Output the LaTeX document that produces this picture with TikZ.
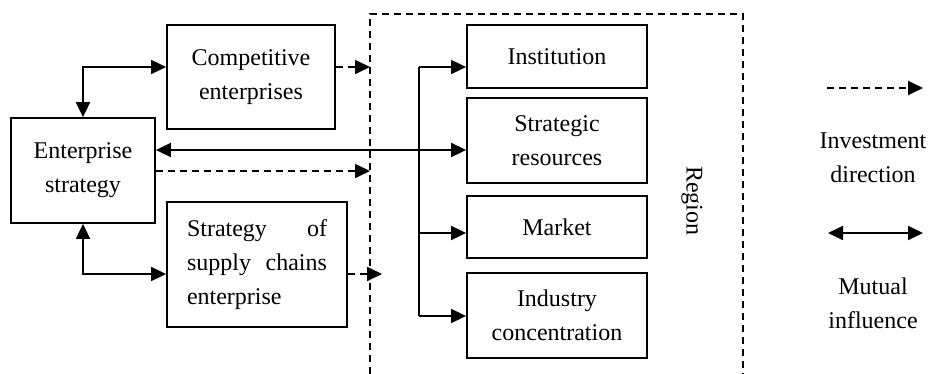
\documentclass[tikz,border=0pt]{standalone}
\usepackage{fontspec}
\setmainfont{Liberation Serif}
\usetikzlibrary{arrows.meta}
\begin{document}
\begin{tikzpicture}[x=0.5pt,y=-0.5pt,
  line width=0.9pt,
  every node/.style={font=\fontsize{12}{17}\selectfont},
  box/.style={draw,line width=0.9pt,align=center,inner sep=2pt},
  arr/.style={-{Triangle[length=7.5pt,width=7pt]}},
  darr/.style={{Triangle[length=7.5pt,width=7pt]}-{Triangle[length=7.5pt,width=7pt]}},
  dsh/.style={dash pattern=on 3.5pt off 2.5pt}]
\useasboundingbox (0,0) rectangle (928,374);

% left-hand boxes
\node[box,minimum width=72pt,minimum height=52.5pt] (es) at (83,170.5) {Enterprise\\strategy};
\node[box,minimum width=84pt,minimum height=52pt] (ce) at (251,77) {Competitive\\enterprises};
\node[box,minimum width=90pt,minimum height=62.5pt,align=left] (sc) at (257,264.5)
  {\parbox{70pt}{Strategy\hfill of\\supply\hfill chains\\enterprise}};

% boxes inside the region
\node[box,minimum width=90pt,minimum height=31.5pt] (in) at (557,56.5) {Institution};
\node[box,minimum width=90pt,minimum height=42.5pt] (sr) at (557,140.5) {Strategic\\resources};
\node[box,minimum width=90pt,minimum height=31pt] (mk) at (557,227) {Market};
\node[box,minimum width=90pt,minimum height=42.5pt] (ic) at (557,315.5) {Industry\\concentration};

% region frame (open at the bottom)
\coordinate (rl) at (370,14);
\coordinate (rr) at (743,14);
\draw[dsh] (370,374) -- (rl) -- (rr) -- (743,374);
\node[rotate=-90] (rg) at (692,201) {Region};

% mutual influence with competitors and supply chain
\draw[darr] (es.north) |- (ce.west |- 0,67);
\draw[darr] (es.south) |- (sc.west |- 0,274);
\draw[darr] (es.east |- 0,150) -- (sr.west |- 0,150);

% investment into the region
\draw[arr,dsh] (ce.east |- 0,67) -- (rl |- 0,67);
\draw[arr,dsh] (es.east |- 0,171) -- (rl |- 0,171);
\draw[arr,dsh] (sc.east |- 0,274) -- (382,274);

% distribution bus to regional factors
\coordinate (bt) at (419,67);
\coordinate (bb) at (419,316);
\draw (bt) -- (bb);
\draw[arr] (bt) -- (in.west |- bt);
\draw[arr] (bt |- 0,233) -- (mk.west |- 0,233);
\draw[arr] (bb) -- (ic.west |- bb);

% legend
\coordinate (l1a) at (827,88);
\coordinate (l1b) at (923,88);
\draw[arr,dsh] (l1a) -- (l1b);
\node[align=center] (l1t) at (873,158) {Investment\\direction};
\coordinate (l2a) at (828,233);
\coordinate (l2b) at (923,233);
\draw[darr] (l2a) -- (l2b);
\node[align=center] (l2t) at (873,303) {Mutual\\influence};
\end{tikzpicture}
\end{document}
